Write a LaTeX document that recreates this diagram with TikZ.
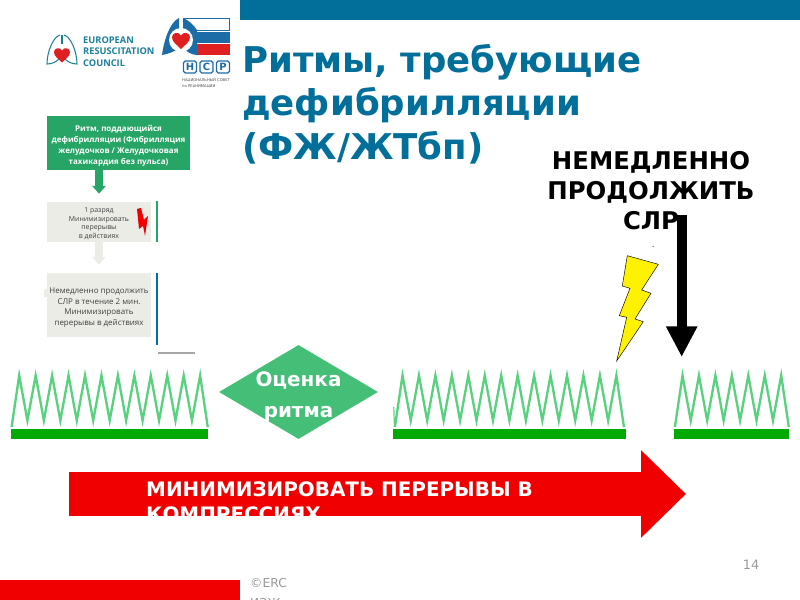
\documentclass[tikz,border=0pt]{standalone}
\usepackage{fontspec}
\setmainfont{DejaVu Sans}
\newfontfamily\opensans{Open Sans}
\usetikzlibrary{positioning,calc,arrows.meta,shapes.geometric}
\definecolor{titleblue}{HTML}{026F9A}
\definecolor{ercteal}{HTML}{1B7F9B}
\definecolor{nsrblue}{HTML}{1C6CA8}
\definecolor{flowgreen}{HTML}{27A566}
\definecolor{flowgrey}{HTML}{ECECE7}
\definecolor{sawgreen}{HTML}{5AD17F}
\definecolor{bargreen}{HTML}{00AA00}
\definecolor{diagreen}{HTML}{45BF78}
\definecolor{compred}{HTML}{F00000}
\definecolor{heartred}{HTML}{E02020}
\tikzset{
	sawline/.style={draw=sawgreen,line width=2pt,line join=miter,miter limit=10},
	barline/.style={fill=bargreen},
	titletext/.style={text=titleblue,font=\fontsize{30.3}{37}\bfseries\selectfont,align=left,anchor=west,inner sep=0},
	orderstext/.style={font=\fontsize{20.8}{25.5}\bfseries\selectfont,align=center,inner sep=0},
	rhythmbox/.style={fill=flowgreen,text=white,minimum width=4.29cm,minimum height=1.62cm,inner sep=0,align=center,font=\opensans\fontsize{6.8}{9.4}\bfseries\selectfont},
	stepbox/.style={fill=flowgrey,text=black!75,minimum width=3.12cm,inner sep=0,align=center},
	flowarrow/.style={line width=6.6pt,-{Triangle[length=0.24cm,width=0.4cm]},shorten >=0.24cm},
	logotext/.style={text=ercteal,font=\opensans\fontsize{7.9}{9.8}\bfseries\selectfont,align=left,anchor=west,inner sep=0},
	nsrbox/.style={draw=nsrblue,line width=1pt,rounded corners=1.5pt,text=nsrblue,minimum width=0.39cm,minimum height=0.36cm,inner sep=0,font=\fontsize{8.5}{8.5}\bfseries\selectfont}
}
\newcommand{\sawrow}[2]{
	\draw[sawline] ({#1-7.6},427) \foreach \k in {1,...,#2} { -- ({#1+(\k-1)*16.45},375.5) \ifnum\k<#2 -- ({#1+(\k-1)*16.45+8.22},420.5)\fi } -- ({#1+(#2-1)*16.45+7.6},427);
}
\newcommand{\heartmark}[4]{
	\fill[#4,shift={(#1,#2)},scale=#3] (0,1) .. controls (-0.5,0.5) and (-1,0.2) .. (-1,-0.3) .. controls (-1,-0.8) and (-0.3,-1) .. (0,-0.5) .. controls (0.3,-1) and (1,-0.8) .. (1,-0.3) .. controls (1,0.2) and (0.5,0.5) .. (0,1) -- cycle;
}
\begin{document}
\begin{tikzpicture}[x=0.03cm,y=-0.03cm]
	\useasboundingbox (0,0) rectangle (800,600);
	\clip (0,0) rectangle (800,600);
	\fill[titleblue] (240,0) rectangle (800,20);
	\fill[compred] (0,580) rectangle (240,600);

	\draw[ercteal,line width=0.9pt] (60,35) .. controls (53,37) and (47,52) .. (47,64) .. controls (52,64) and (56,62) .. (59,59);
	\draw[ercteal,line width=0.9pt] (64,35) .. controls (71,37) and (77,52) .. (77,64) .. controls (72,64) and (68,62) .. (65,59);
	\draw[ercteal,line width=0.9pt] (62,35) -- (62,44);
	\heartmark{62}{54.5}{8}{heartred}
	\node[logotext] (erc) at (83,51.5) {EUROPEAN\\RESUSCITATION\\COUNCIL};

	\fill[nsrblue] (179,18) .. controls (170,22) and (164,40) .. (162,55) .. controls (168,54) and (174,52) .. (179,48) -- cycle;
	\fill[nsrblue] (183,18) .. controls (188,20) and (193,24) .. (197,30) -- (197,55) .. controls (192,55) and (187,52) .. (183,48) -- cycle;
	\fill[white] (181,40) circle (12);
	\heartmark{181}{40}{9}{heartred}
	\draw[nsrblue,line width=0.6pt] (183,18.5) -- (229.5,18.5) -- (229.5,30) -- (197,30);
	\fill[nsrblue] (197,32) rectangle (230,43.5);
	\fill[heartred] (197,44) rectangle (230,55.5);
	\node[nsrbox] (nsrn) at (190,67) {Н};
	\node[nsrbox] (nsrs) at (206.5,67) {С};
	\node[nsrbox] (nsrr) at (223,67) {Р};
	\node[inner sep=0,text=black!70,align=left,anchor=north west,font=\fontsize{3.2}{4.6}\selectfont] (nsrsub) at (182,78) {НАЦИОНАЛЬНЫЙ СОВЕТ\\по РЕАНИМАЦИИ};

	\node[titletext] (title) at (242,104) {Ритмы, требующие\\дефибрилляции\\(ФЖ/ЖТбп)};
	\node[orderstext] (orders) at (651,191) {НЕМЕДЛЕННО\\ПРОДОЛЖИТЬ\\СЛР};

	\node[rhythmbox] (rhythm) at (118.5,143) {\rule{0pt}{10pt}Ритм, поддающийся\\дефибрилляции (Фибрилляция\\желудочков / Желудочковая\\тахикардия без пульса)};
	\node[stepbox,minimum height=1.2cm,font=\opensans\fontsize{5.9}{7.3}\selectfont] (shock) at (99,222) {\rule{0pt}{7pt}1 разряд\\Минимизировать\\перерывы\\в действиях};
	\node[stepbox,minimum height=1.92cm,font=\opensans\fontsize{6.8}{9}\selectfont] (cpr) at (99,305) {\rule{0pt}{9pt}Немедленно продолжить\\СЛР в течение 2 мин.\\Минимизировать\\перерывы в действиях};
	\fill[flowgrey] (44,289) rectangle (47,297);
	\draw[flowarrow,flowgreen] (rhythm.south -| shock) -- (shock.north);
	\draw[flowarrow,flowgrey] (shock.south) -- (cpr.north);
	\fill[compred] (137,209) -- (141,208) -- (144,220) -- (148,216) -- (145,236) -- (143,226) -- (139,229) -- cycle;
	\draw[flowgreen,line width=1pt] (157,201) -- (157,242);
	\draw[titleblue,line width=1pt] (157,273) -- (157,345);
	\draw[black!35,line width=1.5pt] (158,353) -- (195,353);

	\sawrow{19.2}{12}
	\sawrow{402.5}{14}
	\sawrow{682.5}{7}
	\draw[sawgreen,line width=1pt] (393.8,407) -- (394.4,425);
	\fill[barline] (11,429) rectangle (208,439);
	\fill[barline] (393,429) rectangle (626,439);
	\fill[barline] (674,429) rectangle (789,439);
	\node[diamond,fill=diagreen,text=white,aspect=1.69,minimum width=4.77cm,minimum height=2.82cm,inner sep=-0.5cm,align=center,font=\fontsize{17}{26.5}\bfseries\selectfont] (assess) at (298.5,392) {\rule{0pt}{20.5pt}Оценка\\ритма};

	\fill[black] (653,246.5) circle (0.5);
	\draw[black,line width=0.4pt,fill=yellow] (627.3,255.7) -- (658.3,264.3) -- (641.7,290) -- (651,293.3) -- (635,319) -- (643.3,321.7) -- (616.7,361) -- (626.7,317.3) -- (619.3,315.7) -- (630,288.3) -- (622.3,286) -- cycle;
	\coordinate (slrtop) at (681.7,215);
	\coordinate (slrtip) at (681.7,357);
	\draw[black,line width=8.5pt,-{Triangle[length=0.92cm,width=0.88cm]}] (slrtop) -- (slrtip);

	\coordinate (compstart) at (69,494);
	\coordinate (compend) at (686,494);
	\draw[compred,line width=37.5pt,-{Triangle[length=1.35cm,width=2.55cm]}] (compstart) -- (compend);
	\node[inner sep=0,text=white,align=left,anchor=north west,font=\fontsize{17}{22}\bfseries\selectfont] (comptext) at (146,481) {МИНИМИЗИРОВАТЬ ПЕРЕРЫВЫ В\\КОМПРЕССИЯХ};

	\node[inner sep=0,text=black!40,font=\fontsize{11}{12}\selectfont] (pagenum) at (751,565) {14};
	\node[inner sep=0,text=black!40,align=left,anchor=north west,font=\fontsize{10.5}{17}\selectfont] (footer) at (250,578) {©ERC\\ИЗЖ};
\end{tikzpicture}
\end{document}
